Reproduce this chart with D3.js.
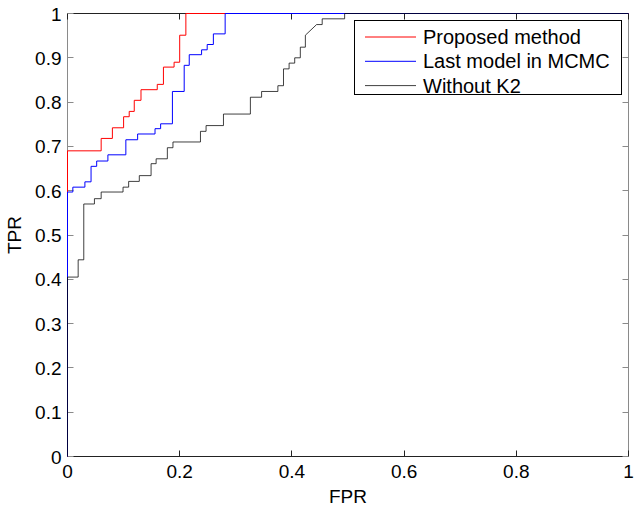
<!DOCTYPE html>
<html><head><meta charset="utf-8">
<script src="https://cdn.jsdelivr.net/npm/d3@7"></script>
<style>body{margin:0;background:#fff}svg{display:block}text{font-family:"Liberation Sans",Arial,sans-serif}</style>
</head><body><div id="chart"></div>
<script>
const seriesNames = ["Proposed method", "Last model in MCMC", "Without K2"];
const seriesColors = ["#ff0000", "#0000ff", "#000000"];
const proposedFPR = [0, 0, 0.06, 0.06, 0.08, 0.08, 0.1, 0.1, 0.11, 0.11, 0.119, 0.119, 0.131, 0.131, 0.16, 0.16, 0.171, 0.171, 0.19, 0.19, 0.2, 0.2, 0.211, 0.211, 1];
const proposedTPR = [0, 0.69, 0.69, 0.718, 0.718, 0.742, 0.742, 0.767, 0.767, 0.779, 0.779, 0.804, 0.804, 0.828, 0.828, 0.84, 0.84, 0.879, 0.879, 0.89, 0.89, 0.951, 0.951, 1, 1];
const lastFPR = [0, 0, 0.0095, 0.0095, 0.031, 0.031, 0.042, 0.042, 0.052, 0.052, 0.072, 0.072, 0.104, 0.104, 0.125, 0.125, 0.156, 0.156, 0.166, 0.166, 0.187, 0.187, 0.208, 0.208, 0.217, 0.217, 0.239, 0.239, 0.249, 0.249, 0.26, 0.26, 0.281, 0.281, 1];
const lastTPR = [0, 0.597, 0.597, 0.608, 0.608, 0.62, 0.62, 0.655, 0.655, 0.667, 0.667, 0.681, 0.681, 0.715, 0.715, 0.728, 0.728, 0.74, 0.74, 0.751, 0.751, 0.824, 0.824, 0.883, 0.883, 0.907, 0.907, 0.918, 0.918, 0.93, 0.93, 0.954, 0.954, 1, 1];
const withoutFPR = [0, 0, 0.019, 0.019, 0.029, 0.029, 0.048, 0.048, 0.06, 0.06, 0.099, 0.099, 0.109, 0.109, 0.128, 0.128, 0.149, 0.149, 0.158, 0.158, 0.178, 0.178, 0.188, 0.188, 0.237, 0.237, 0.247, 0.247, 0.278, 0.278, 0.326, 0.326, 0.346, 0.346, 0.375, 0.375, 0.385, 0.385, 0.395, 0.395, 0.405, 0.405, 0.415, 0.415, 0.424, 0.424, 0.444, 0.454, 0.454, 0.494, 0.494, 1];
const withoutTPR = [0, 0.405, 0.405, 0.444, 0.444, 0.57, 0.57, 0.582, 0.582, 0.597, 0.597, 0.608, 0.608, 0.621, 0.621, 0.634, 0.634, 0.661, 0.661, 0.672, 0.672, 0.697, 0.697, 0.71, 0.71, 0.734, 0.734, 0.747, 0.747, 0.773, 0.773, 0.811, 0.811, 0.824, 0.824, 0.837, 0.837, 0.875, 0.875, 0.888, 0.888, 0.9, 0.9, 0.924, 0.924, 0.951, 0.975, 0.975, 0.988, 0.988, 1, 1];
const xTicks = [0, 0.2, 0.4, 0.6, 0.8, 1];
const yTicks = [0, 0.1, 0.2, 0.3, 0.4, 0.5, 0.6, 0.7, 0.8, 0.9, 1];

const W = 637, H = 510;
const svg = d3.select("#chart").append("svg").attr("width", W).attr("height", H);
const x = d3.scaleLinear().domain([0, 1]).range([67.5, 628.5]);
const y = d3.scaleLinear().domain([0, 1]).range([456.5, 13.5]);

const series = [
  {fpr: proposedFPR, tpr: proposedTPR},
  {fpr: lastFPR, tpr: lastTPR},
  {fpr: withoutFPR, tpr: withoutTPR}
];

const tl = 6;
const grayAx = "#8a8a8a", darkAx = "#222";
const ax = svg.append("g").attr("stroke-width", 1).attr("fill", "none");
ax.append("line").attr("x1", x(0)).attr("x2", x(0)).attr("y1", y(0)).attr("y2", y(1)).attr("stroke", grayAx);
ax.append("line").attr("x1", x(1)).attr("x2", x(1)).attr("y1", y(0)).attr("y2", y(1)).attr("stroke", grayAx);
ax.append("line").attr("x1", x(0)).attr("x2", x(1)).attr("y1", y(0)).attr("y2", y(0)).attr("stroke", darkAx);
ax.append("line").attr("x1", x(0)).attr("x2", x(1)).attr("y1", y(1)).attr("y2", y(1)).attr("stroke", darkAx);
xTicks.forEach(t => {
  const px = Math.round(x(t) - 0.5) + 0.5;
  ax.append("line").attr("x1", px).attr("x2", px).attr("y1", y(0)).attr("y2", y(0) - tl).attr("stroke", darkAx);
  ax.append("line").attr("x1", px).attr("x2", px).attr("y1", y(1)).attr("y2", y(1) + tl).attr("stroke", darkAx);
});
yTicks.forEach(t => {
  const py = Math.round(y(t) - 0.5) + 0.5;
  ax.append("line").attr("x1", x(0)).attr("x2", x(0) + tl).attr("y1", py).attr("y2", py).attr("stroke", grayAx);
  ax.append("line").attr("x1", x(1)).attr("x2", x(1) - tl).attr("y1", py).attr("y2", py).attr("stroke", grayAx);
});

const line = d3.line().x(d => x(d[0])).y(d => y(d[1]));
series.forEach((s, i) => {
  const pts = s.fpr.map((f, j) => [f, s.tpr[j]]);
  svg.append("path").attr("d", line(pts)).attr("fill", "none")
    .attr("stroke", seriesColors[i]).attr("stroke-width", 1)
    .attr("stroke-opacity", i === 2 ? 0.75 : 1);
});

const fs = 19;
svg.append("g").selectAll("text").data(xTicks).join("text")
  .attr("x", d => x(d)).attr("y", y(0) + 21).attr("text-anchor", "middle")
  .attr("font-size", fs).text(d => d3.format("~g")(d));
svg.append("g").selectAll("text").data(yTicks).join("text")
  .attr("x", x(0) - 6).attr("y", d => y(d) + 7).attr("text-anchor", "end")
  .attr("font-size", fs).text(d => d3.format("~g")(d));
svg.append("text").attr("x", (x(0) + x(1)) / 2).attr("y", 503).attr("text-anchor", "middle")
  .attr("font-size", fs).text("FPR");
svg.append("text").attr("transform", `translate(21,${(y(0) + y(1)) / 2}) rotate(-90)`)
  .attr("text-anchor", "middle").attr("font-size", fs).text("TPR");

const lg = svg.append("g");
lg.append("rect").attr("x", 354.5).attr("y", 20.5).attr("width", 267).attr("height", 74)
  .attr("fill", "#fff").attr("stroke", "#000");
seriesNames.forEach((n, i) => {
  const cy = 37 + i * 24.3;
  lg.append("line").attr("x1", 365).attr("x2", 416).attr("y1", cy).attr("y2", cy)
    .attr("stroke", seriesColors[i]).attr("stroke-width", 1).attr("stroke-opacity", i === 2 ? 0.75 : 1);
  lg.append("text").attr("x", 423).attr("y", cy + 7).attr("font-size", 20).text(n);
});
</script></body></html>
